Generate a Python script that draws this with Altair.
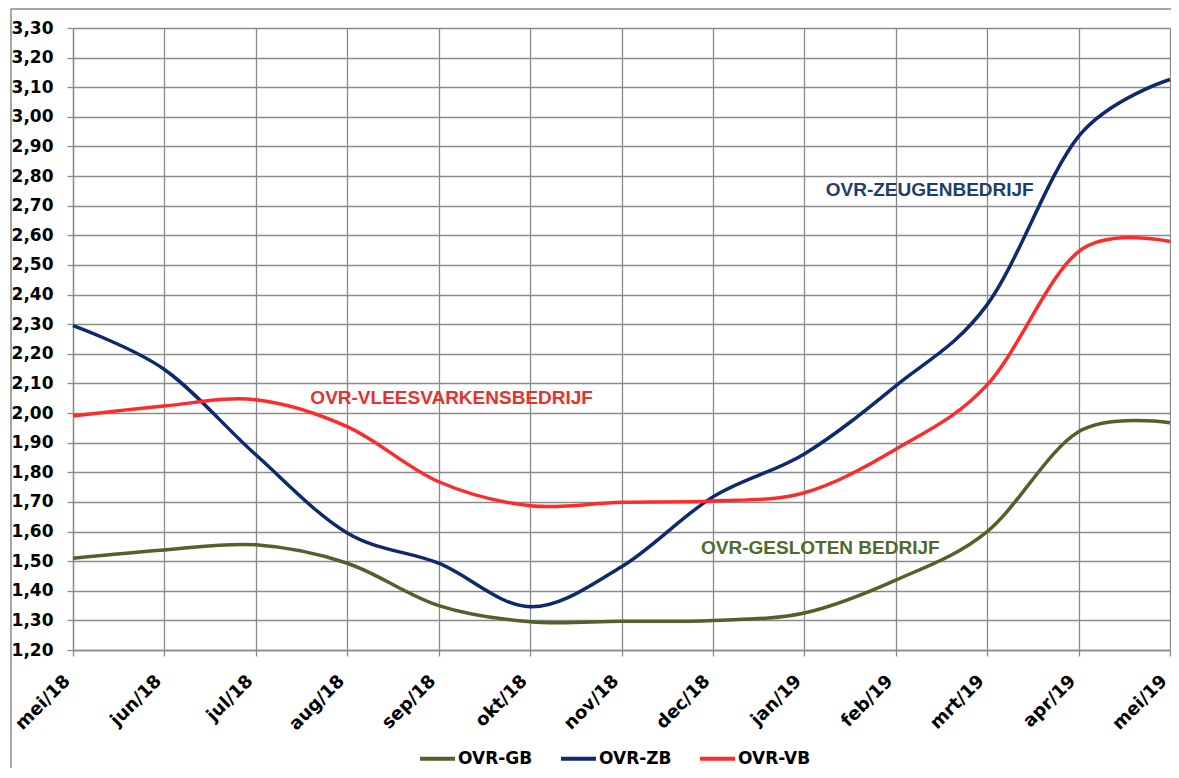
import altair as alt
import pandas as pd

months = ["mei/18", "jun/18", "jul/18", "aug/18", "sep/18", "okt/18", "nov/18",
          "dec/18", "jan/19", "feb/19", "mrt/19", "apr/19", "mei/19"]
ovr_gb = [1.51, 1.538, 1.555, 1.493, 1.35, 1.295, 1.297, 1.30, 1.325, 1.436, 1.60, 1.937, 1.967]
ovr_zb = [2.295, 2.147, 1.859, 1.595, 1.493, 1.346, 1.481, 1.717, 1.862, 2.092, 2.366, 2.934, 3.126]
ovr_vb = [1.99, 2.024, 2.045, 1.954, 1.768, 1.687, 1.699, 1.703, 1.731, 1.878, 2.095, 2.545, 2.579]
series_names = ["OVR-GB", "OVR-ZB", "OVR-VB"]
series_colors = ["#4F6228", "#0D2A6E", "#FF2B2B"]
y_ticks = [1.2, 1.3, 1.4, 1.5, 1.6, 1.7, 1.8, 1.9, 2.0, 2.1, 2.2, 2.3, 2.4, 2.5,
           2.6, 2.7, 2.8, 2.9, 3.0, 3.1, 3.2, 3.3]

ann_texts = ["OVR-ZEUGENBEDRIJF", "OVR-VLEESVARKENSBEDRIJF", "OVR-GESLOTEN BEDRIJF"]
ann_months = ["feb/19", "sep/18", "jan/19"]
ann_values = [2.754, 2.051, 1.545]
ann_dx = [34, 13, 16]
ann_colors = ["#1B3F6E", "#E8302E", "#4F6B2A"]

rows = []
for name, vals in zip(series_names, [ovr_gb, ovr_zb, ovr_vb]):
    for m, v in zip(months, vals):
        rows.append({"maand": m, "serie": name, "waarde": v})
df = pd.DataFrame(rows)

grid_col = "#8a8a8a"
x_scale = alt.Scale(type="point", padding=0)
x_axis = alt.Axis(labelAngle=-45, labelAlign="right", labelBaseline="middle",
                  labelFont="DejaVu Sans", labelFontWeight="bold", labelFontSize=18,
                  labelColor="black", labelPadding=22, labelOffset=-6, tickSize=6,
                  labelOverlap=False, labelBound=False,
                  tickColor=grid_col, domainColor=grid_col, grid=True,
                  gridColor=grid_col, gridWidth=1.3, tickWidth=1.3, domainWidth=1.3)
y_scale = alt.Scale(domain=[1.2, 3.3], nice=False, zero=False)
y_axis = alt.Axis(values=y_ticks,
                  labelExpr="replace(format(datum.value, '.2f'), '.', ',')",
                  labelFont="DejaVu Sans", labelFontWeight="bold", labelFontSize=17,
                  labelColor="black", labelPadding=14, tickSize=6,
                  labelOverlap=False, labelBound=False, labelFlush=False,
                  tickColor=grid_col, domainColor=grid_col, grid=True,
                  gridColor=grid_col, gridWidth=1.3, tickWidth=1.3, domainWidth=1.3)

lines = alt.Chart(df).mark_line(strokeWidth=3.5, interpolate="cardinal").encode(
    x=alt.X("maand:N", sort=months, title=None, scale=x_scale, axis=x_axis),
    y=alt.Y("waarde:Q", scale=y_scale, title=None, axis=y_axis),
    color=alt.Color("serie:N", sort=series_names,
                    scale=alt.Scale(domain=series_names, range=series_colors),
                    legend=alt.Legend(orient="none", legendX=345, legendY=711,
                                      direction="horizontal", title=None,
                                      symbolType="stroke", symbolStrokeWidth=4,
                                      symbolSize=1225, labelFont="DejaVu Sans",
                                      labelFontWeight="bold", labelFontSize=17,
                                      labelColor="black", columnPadding=20,
                                      labelOffset=1, padding=0)),
)

layers = [lines]
for t, m, v, dx, c in zip(ann_texts, ann_months, ann_values, ann_dx, ann_colors):
    adf = pd.DataFrame({"maand": [m], "waarde": [v], "tekst": [t]})
    layers.append(
        alt.Chart(adf).mark_text(font="Liberation Sans", fontWeight="bold",
                                 fontSize=19, color=c, dx=dx, align="center",
                                 baseline="middle").encode(
            x=alt.X("maand:N", sort=months, title=None, scale=x_scale, axis=x_axis),
            y=alt.Y("waarde:Q", scale=y_scale, title=None, axis=y_axis),
            text="tekst:N")
    )

frame_left = alt.Chart(pd.DataFrame({"a": [0]})).mark_rule(color="#8a8a8a", strokeWidth=1.5).encode(
    x=alt.value(-62), y=alt.value(-19), y2=alt.value(760))
frame_top = alt.Chart(pd.DataFrame({"a": [0]})).mark_rule(color="#8a8a8a", strokeWidth=1.5).encode(
    x=alt.value(-62), x2=alt.value(1120), y=alt.value(-19))
layers += [frame_left, frame_top]

chart = alt.layer(*layers).properties(
    width=1097, height=622,
    autosize=alt.AutoSizeParams(type="none"),
    padding={"left": 65, "top": 20, "right": 1, "bottom": 118},
).configure_view(strokeWidth=0).configure_axis(labelOverlap=False).configure(background="white")

chart.save("out.html", embed_options={"renderer": "svg", "actions": False})
